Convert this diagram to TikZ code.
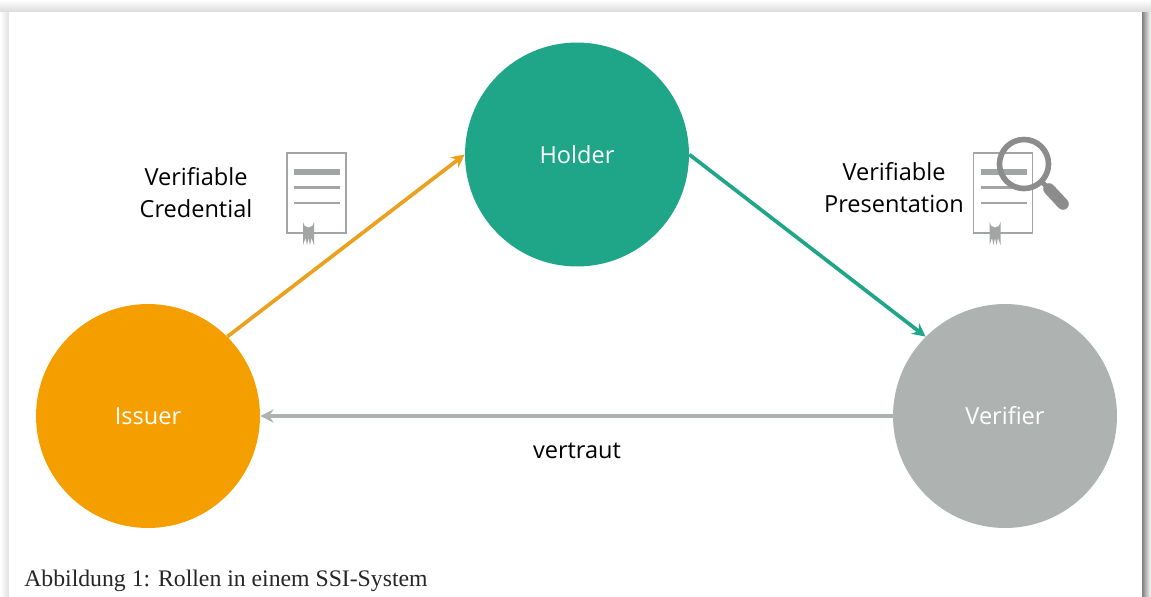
\documentclass[tikz,border=0pt]{standalone}
\usepackage{fontspec}
\setmainfont[Ligatures=NoCommon]{Open Sans}
\newfontfamily\captionfont{Liberation Serif}
\usepackage[HTML]{xcolor}
\usetikzlibrary{positioning, arrows, arrows.meta}
\definecolor{issuercol}{HTML}{F59E00}
\definecolor{issuerline}{HTML}{EBA01E}
\definecolor{holdercol}{HTML}{1FA688}
\definecolor{verifiercol}{HTML}{AEB3B2}
\definecolor{iconcol}{HTML}{A3A5A5}
\definecolor{lenscol}{HTML}{8C8C8C}
\tikzset{
  role/.style={circle, minimum size=4.48cm, inner sep=0pt, text=white, font=\fontsize{13.4}{16}\selectfont},
  lbl/.style={align=center, text=black, font=\fontsize{13.4}{18.2}\selectfont},
  flow/.style={-{Stealth[length=7.5pt,width=7.5pt]}, line width=2.1pt},
  certificate/.pic={
    \draw[iconcol, line width=1.1pt, fill=white] (0,0) rectangle (59,80);
    \draw[iconcol, line width=3.1pt] (7,19) -- (53,19);
    \draw[iconcol, line width=1.4pt] (7,34.5) -- (53,34.5);
    \draw[iconcol, line width=1.4pt] (7,50) -- (53,50);
    \fill[iconcol] (16,69) arc (180:0:5.5) -- (27,92) -- (24.5,85) -- (23,92) -- (21.5,85) -- (20,92) -- (18.5,85) -- (16,92) -- cycle;
  }
}
\begin{document}
\begin{tikzpicture}[x=0.02cm, y=-0.02cm]
\useasboundingbox (0,0) rectangle (1151,596);
% Define the page and its shadow
\shade[top color=white, bottom color=black!14] (0,0) rectangle (1151,12);
\shade[left color=white, right color=black!12] (0,12) rectangle (9,596);
\shade[left color=black!50, right color=white] (1142,12) rectangle (1151,596);
\fill[white] (9,12) rectangle (1142,596);

% Define the nodes
\node[role, fill=holdercol] (holder) at (577,154.5) {Holder};
\node[role, fill=issuercol] (issuer) at (148,416) {Issuer};
\node[role, fill=verifiercol] (verifier) at (1005,416) {Verifier};
\node[lbl] (vc) at (196,192.5) {Verifiable\\Credential};
\node[lbl] (vp) at (894,187.5) {Verifiable\\Presentation};
\node[lbl] (trust) at (577,451) {vertraut};
\node[anchor=base west, inner sep=0pt, text=black!85, font=\captionfont\fontsize{13.5}{15}\selectfont] (caption) at (24,586) {Abbildung 1: Rollen in einem SSI-System};

% Draw the icons
\pic at (287,153) {certificate};
\pic at (973.5,153) {certificate};
\draw[lenscol, line width=3.2pt] (1024,164) circle (24.5);
\draw[lenscol, line width=2.8pt] (1042,182) -- (1050,190);
\draw[lenscol, line width=6.6pt, line cap=round] (1049,189) -- (1063,204);

% Draw the maps
\draw[flow, issuerline] (issuer.45) -- (holder.180);
\draw[flow, holdercol] (holder.0) -- (verifier.135);
\draw[flow, verifiercol] (verifier.180) -- (issuer.0);
\end{tikzpicture}
\end{document}
